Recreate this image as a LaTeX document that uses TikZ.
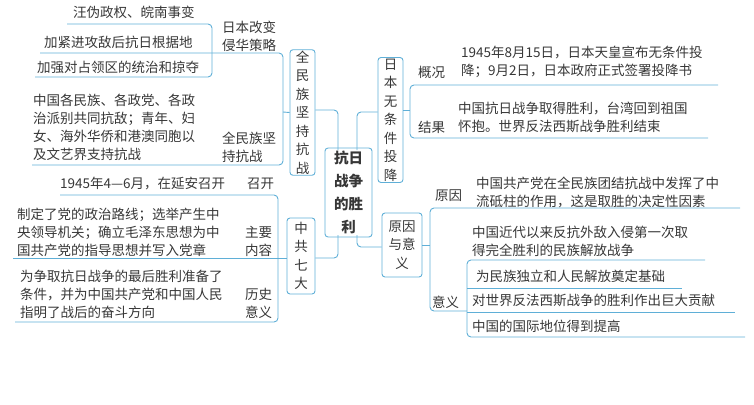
\documentclass[tikz,border=0pt]{standalone}
\usepackage{fontspec}
\setmainfont{Noto Sans CJK SC}
\definecolor{ln}{RGB}{95,175,215}
\definecolor{tx}{RGB}{55,55,55}
\begin{document}
\begin{tikzpicture}[x=1pt,y=-1pt,
  t/.style={anchor=west,inner sep=0pt,text=tx,font=\fontsize{13.5}{18}\selectfont},
  tl/.style={t,align=left},
  bx/.style={draw=ln,line width=0.9pt,rounded corners=3pt,text=tx,align=center,inner sep=3pt,font=\fontsize{13.5}{18.5}\selectfont},
  l/.style={draw=ln,line width=0.9pt,rounded corners=4pt}]
\useasboundingbox (0,0) rectangle (754,404);
% ===== center
\node[bx,minimum width=47pt,minimum height=85pt,font=\bfseries\fontsize{14.5}{23}\selectfont] (c) at (348.5,192.5) {抗日\\战争\\的胜\\利};
% ===== left top
\node[bx,minimum width=25pt,minimum height=123pt,inner sep=1pt] (qm) at (302.5,112.5) {全\\民\\族\\坚\\持\\抗\\战};
\node[t] (a1) at (73,12) {汪伪政权、皖南事变};
\node[t] (a2) at (44,42) {加紧进攻敌后抗日根据地};
\node[t] (a3) at (37,67) {加强对占领区的统治和掠夺};
\node[tl] (a4) at (222,36) {日本改变\\侵华策略};
\node[tl] (a5) at (33,127) {中国各民族、各政党、各政\\治派别共同抗敌；青年、妇\\女、海外华侨和港澳同胞以\\及文艺界支持抗战};
\node[tl] (a6) at (222,147) {全民族坚\\持抗战};
\path[l] (67,24) -- (212,24) -- (212,77) -- (35,77);
\path[l] (40,53) -- (283,53) -- (283,165) -- (32,165);
\path[l] (283,112) -- (qm.west);
\path[l] (qm.east |- 0,110) -- (338,110) -- (338,150);
% ===== left bottom
\node[bx,minimum width=28pt,minimum height=76pt,inner sep=1pt] (zg) at (301,256) {中\\共\\七\\大};
\node[t] (b1) at (60,184) {1945年4—6月，在延安召开};
\node[t] (b2) at (247,184) {召开};
\node[tl] (b3) at (17,232) {制定了党的政治路线；选举产生中\\央领导机关；确立毛泽东思想为中\\国共产党的指导思想并写入党章};
\node[tl] (b4) at (245,241) {主要\\内容};
\node[tl] (b5) at (20,294) {为争取抗日战争的最后胜利准备了\\条件，并为中国共产党和中国人民\\指明了战后的奋斗方向};
\node[tl] (b6) at (245,303) {历史\\意义};
\path[l] (60,195) -- (278,195) -- (278,322) -- (15,322);
\path[l] (13,258) -- (zg.west |- 0,258);
\path[l] (zg.east |- 0,258) -- (338,258) -- (338,235);
% ===== right top
\node[bx,minimum width=25pt,minimum height=125pt,inner sep=1pt] (rb) at (390.5,120) {日\\本\\无\\条\\件\\投\\降};
\path[l] (357,150) -- (357,112) -- (rb.west |- 0,112);
\node[t] (r1) at (418,72) {概况};
\node[tl] (r2) at (461,62) {1945年8月15日，日本天皇宣布无条件投\\降；9月2日，日本政府正式签署投降书};
\node[t] (r3) at (418,127) {结果};
\node[tl] (r4) at (458,117) {中国抗日战争取得胜利，台湾回到祖国\\怀抱。世界反法西斯战争胜利结束};
\path[l] (718,85) -- (410,85) -- (410,138) -- (708,138);
\path[l] (rb.east |- 0,110) -- (410,110);
% ===== right bottom
\node[bx,minimum width=40pt,minimum height=64pt,inner sep=1pt] (yy) at (402,245) {原因\\与意\\义};
\path[l] (357,235) -- (357,247) -- (yy.west |- 0,247);
\path[l] (yy.east |- 0,245) -- (430,245);
\node[t] (s1) at (435,196) {原因};
\node[tl] (s2) at (476,192) {中国共产党在全民族团结抗战中发挥了中\\流砥柱的作用，这是取胜的决定性因素};
\node[t] (s3) at (432,302) {意义};
\node[tl] (s4) at (472,241) {中国近代以来反抗外敌入侵第一次取\\得完全胜利的民族解放战争};
\node[t] (s5) at (476,276) {为民族独立和人民解放奠定基础};
\node[t] (s6) at (472,300) {对世界反法西斯战争的胜利作出巨大贡献};
\node[t] (s7) at (472,326) {中国的国际地位得到提高};
\path[l] (740,208) -- (430,208) -- (430,311) -- (467,311);
\path[l] (705,260) -- (467,260) -- (467,337) -- (745,337);
\path[l] (467,288) -- (682,288);
\path[l] (467,312) -- (735,312);
\end{tikzpicture}
\end{document}
